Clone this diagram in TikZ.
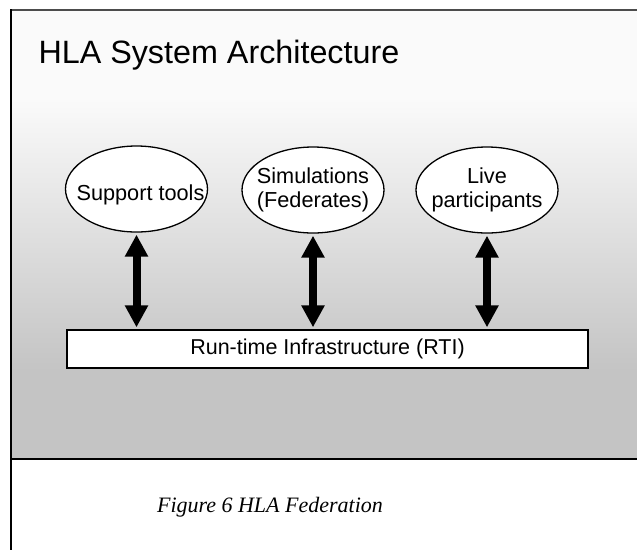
\documentclass[tikz,border=0pt]{standalone}
\usepackage{fontspec}
\setmainfont{Liberation Sans}
\newfontfamily\capfont{Liberation Serif}
\usetikzlibrary{shapes.geometric,arrows.meta}
\definecolor{panelgray}{HTML}{C4C4C4}
\definecolor{paneltop}{HTML}{FAFAFA}
\tikzset{
  comp/.style={ellipse,draw=black,line width=1.3pt,fill=white,
    minimum width=142pt,minimum height=86pt,inner sep=0pt},
  comptext/.style={align=center,inner sep=0pt,font=\fontsize{21.7}{24}\selectfont},
  link/.style={line width=8pt,
    {Triangle[width=22pt,length=22pt]}-{Triangle[width=22pt,length=22pt]},
    shorten <=2pt,shorten >=2pt},
  rtibox/.style={rectangle,draw=black,line width=1.3pt,fill=white,
    minimum width=521pt,minimum height=38pt,inner sep=0pt,
    font=\fontsize{21.5}{24}\selectfont}
}
\begin{document}
\begin{tikzpicture}[x=1pt,y=-1pt]
  \useasboundingbox (0,0) rectangle (637,550);
  % background panel with vertical gradient
  \fill[paneltop] (11,10) rectangle (637,100);
  \shade[top color=paneltop,bottom color=panelgray] (11,99.5) rectangle (637,370.5);
  \fill[panelgray] (11,370) rectangle (637,459);
  \draw[line width=2pt,draw=black!70] (11,10) -- (637,10);
  \draw[line width=2pt] (11,459) -- (637,459);
  \draw[line width=1.5pt] (11,9) -- (11,550);

  \node[anchor=base west,font=\fontsize{32.3}{38}\selectfont] (title) at (35,63) {HLA System Architecture};

  % federation members
  \node[comp] (tools) at (136.5,189) {};
  \node[comp] (sims) at (313,190) {};
  \node[comp] (live) at (487,190) {};
  \node[comptext,anchor=base] (toolstext) at (140.5,200) {Support tools};
  \node[comptext] (simstext) at (sims) {Simulations\\(Federates)};
  \node[comptext] (livetext) at (live) {Live\\participants};

  \node[rtibox] (rti) at (327.5,349) {Run-time Infrastructure (RTI)};

  \draw[link] (tools.south) -- (tools.south |- rti.north);
  \draw[link] (sims.south) -- (sims.south |- rti.north);
  \draw[link] (live.south) -- (live.south |- rti.north);

  \node[anchor=base,font=\capfont\itshape\fontsize{22}{26}\selectfont] (caption) at (270,512) {Figure 6 HLA Federation};
\end{tikzpicture}
\end{document}
